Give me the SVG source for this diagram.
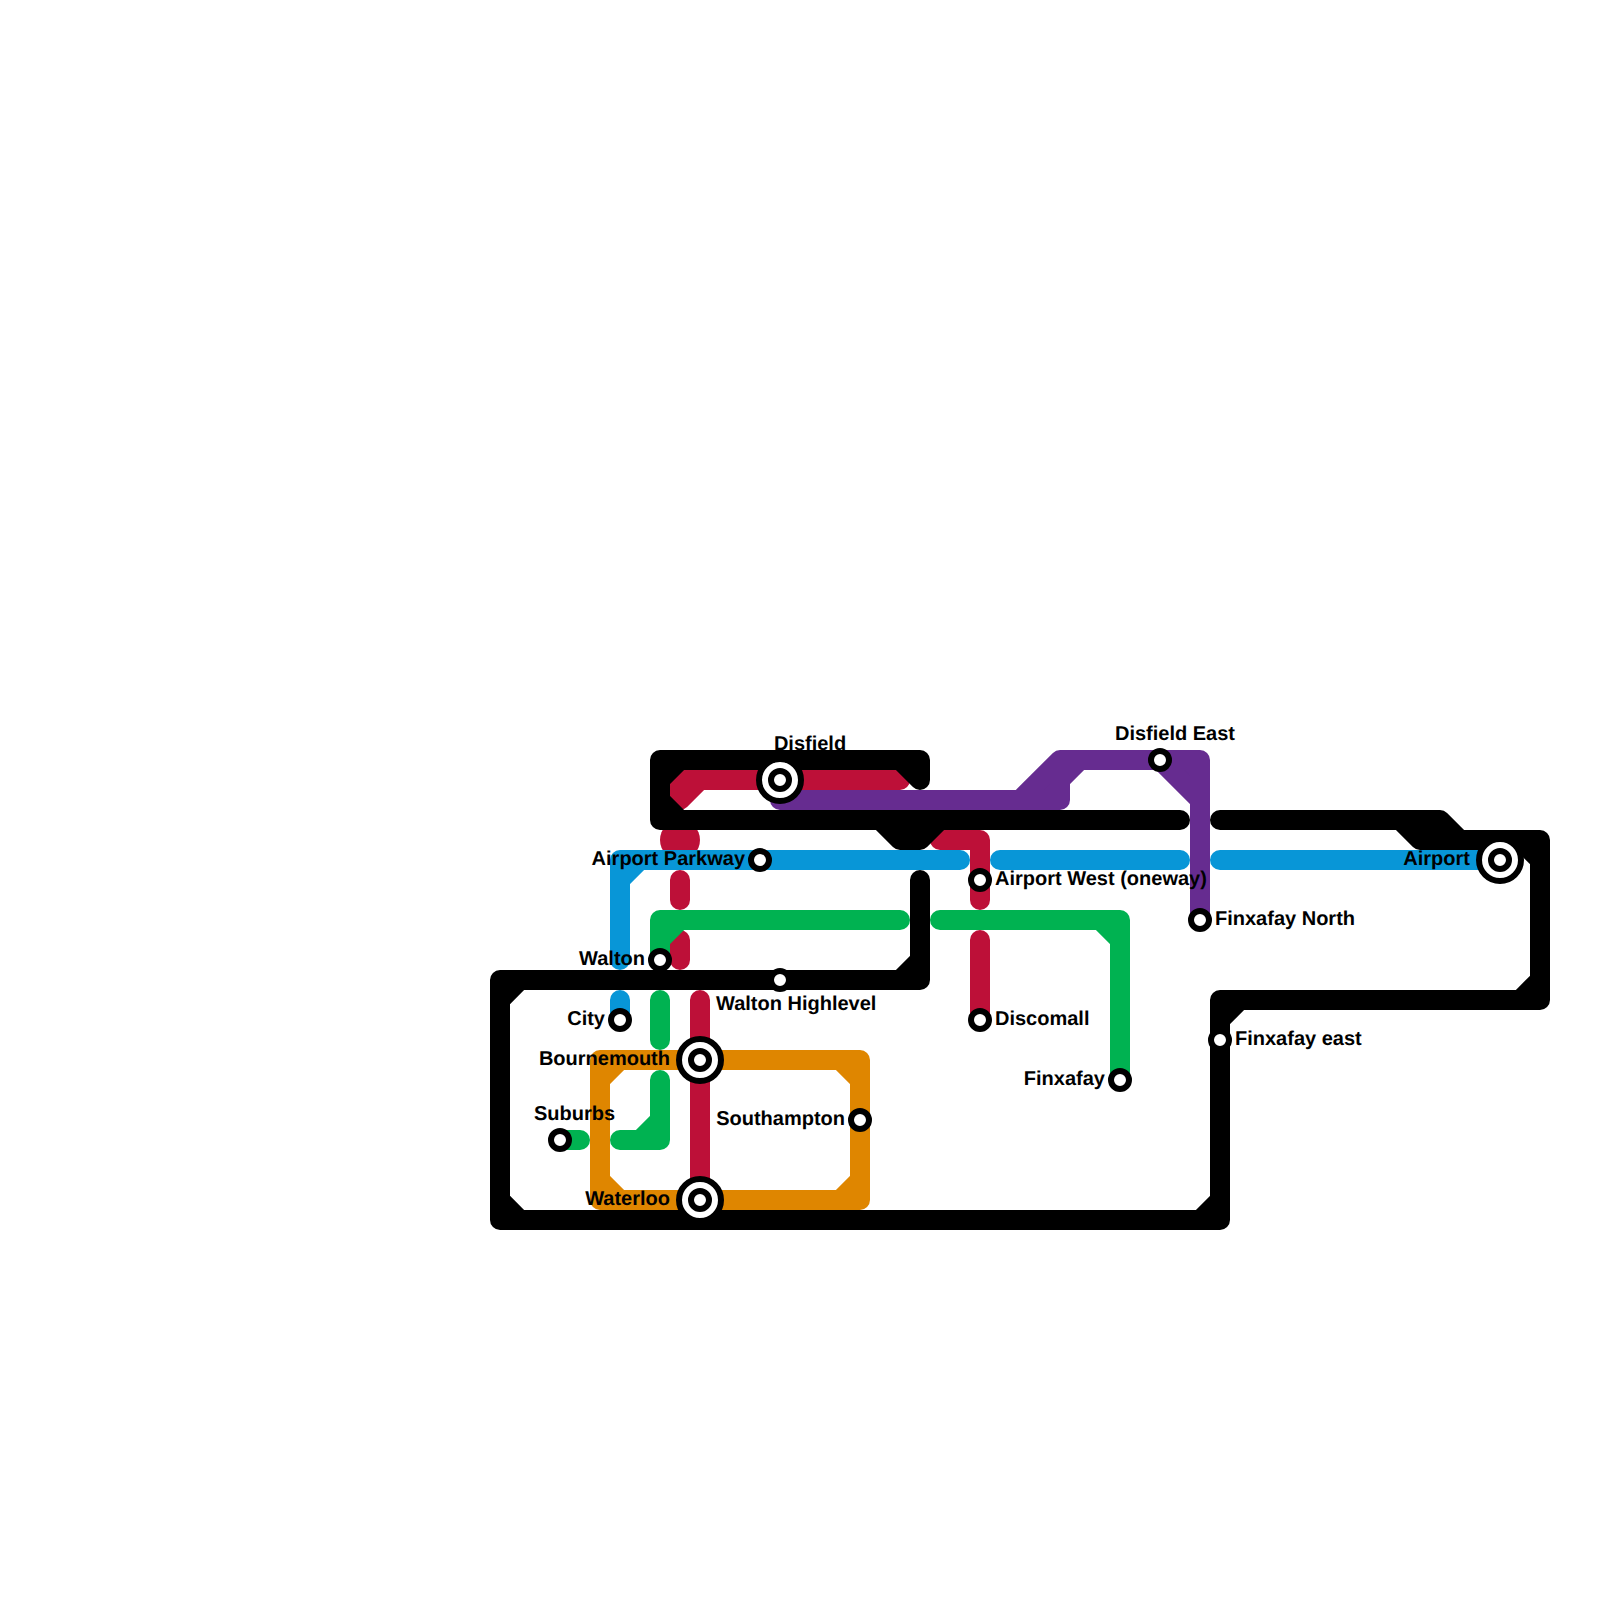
<svg xmlns="http://www.w3.org/2000/svg" width="1600" height="1600" viewBox="0 0 1600 1600">
<style>
.l{fill:none;stroke-width:20;stroke-linecap:round;stroke-linejoin:round}
.s{fill:#fff;stroke:#000;stroke-width:6}
.t{font-family:"Liberation Sans",Arial,sans-serif;font-weight:700;font-size:20px;fill:#000;text-rendering:geometricPrecision}
.e{text-anchor:end}
.m{text-anchor:middle}
</style>
<defs>
<g id="st"><circle class="s" r="9"/></g>
<g id="ix"><circle class="s" r="21"/><circle class="s" r="9"/></g>
</defs>
<rect width="1600" height="1600" fill="#fff"/>
<g id="connectors">
<path id="line-orange" class="l" stroke="#df8600" d="M600,1060H860V1200H600ZM600,1080L620,1060M840,1060L860,1080M860,1180L840,1200M620,1200L600,1180"/>
<circle id="line-red-knot" cx="680" cy="840" r="20" fill="#bd1038"/>
<path id="line-red" class="l" stroke="#bd1038" d="M900,780H680V800M700,780L680,800M680,880V900M680,940V960M700,1000V1200M940,840H980V900M980,940V1020"/>
<path id="line-green" class="l" stroke="#00b251" d="M660,960V920H900M660,940L680,920M940,920H1120V1080M1100,920L1120,940M660,1000V1040M660,1080V1140H620M640,1140L660,1120M560,1140H580"/>
<path id="line-purple-fill" fill="#662c90" d="M1020,800L1060,760V800ZM1160,760L1200,800V760Z"/>
<path id="line-purple" class="l" stroke="#662c90" d="M780,800H1060V780L1080,760M1020,800L1060,760H1200V920M1160,760L1200,800"/>
<path id="line-black" class="l" stroke="#000" d="M920,780V760H660V820H1180M900,760L920,780M680,760L660,780M660,800L680,820M880,820L900,840H920L940,820M920,880V980H500V1220H1220V1000H1540V840H1420L1400,820H1220M1400,820H1440L1460,840M900,980L920,960M500,1000L520,980M500,1200L520,1220M1200,1220L1220,1200M1220,1020L1240,1000M1520,1000L1540,980M1520,840L1540,860"/>
<path id="line-blue" class="l" stroke="#0896d7" d="M620,960V860H960M620,880L640,860M1000,860H1180M1220,860H1500M620,1000V1020"/>
</g>
<g id="disfield"><use href="#ix" x="780" y="780"/><text class="t m" x="810" y="750">Disfield</text></g>
<g id="disfield-east"><use href="#st" x="1160" y="760"/><text class="t m" x="1175" y="740">Disfield East</text></g>
<g id="airport-parkway"><use href="#st" x="760" y="860"/><text class="t e" x="745" y="865">Airport Parkway</text></g>
<g id="airport-west"><use href="#st" x="980" y="880"/><text class="t" x="995" y="885">Airport West (oneway)</text></g>
<g id="finxafay-north"><use href="#st" x="1200" y="920"/><text class="t" x="1215" y="925">Finxafay North</text></g>
<g id="airport"><use href="#ix" x="1500" y="860"/><text class="t e" x="1470" y="865">Airport</text></g>
<g id="walton"><use href="#st" x="660" y="960"/><text class="t e" x="645" y="965">Walton</text></g>
<g id="walton-highlevel"><use href="#st" x="780" y="980"/><text class="t" x="716" y="1010">Walton Highlevel</text></g>
<g id="city"><use href="#st" x="620" y="1020"/><text class="t e" x="605" y="1025">City</text></g>
<g id="discomall"><use href="#st" x="980" y="1020"/><text class="t" x="995" y="1025">Discomall</text></g>
<g id="finxafay-east"><use href="#st" x="1220" y="1040"/><text class="t" x="1235" y="1045">Finxafay east</text></g>
<g id="bournemouth"><use href="#ix" x="700" y="1060"/><text class="t e" x="670" y="1065">Bournemouth</text></g>
<g id="finxafay"><use href="#st" x="1120" y="1080"/><text class="t e" x="1105" y="1085">Finxafay</text></g>
<g id="southampton"><use href="#st" x="860" y="1120"/><text class="t e" x="845" y="1125">Southampton</text></g>
<g id="suburbs"><use href="#st" x="560" y="1140"/><text class="t" x="534" y="1120">Suburbs</text></g>
<g id="waterloo"><use href="#ix" x="700" y="1200"/><text class="t e" x="670" y="1205">Waterloo</text></g>
</svg>
